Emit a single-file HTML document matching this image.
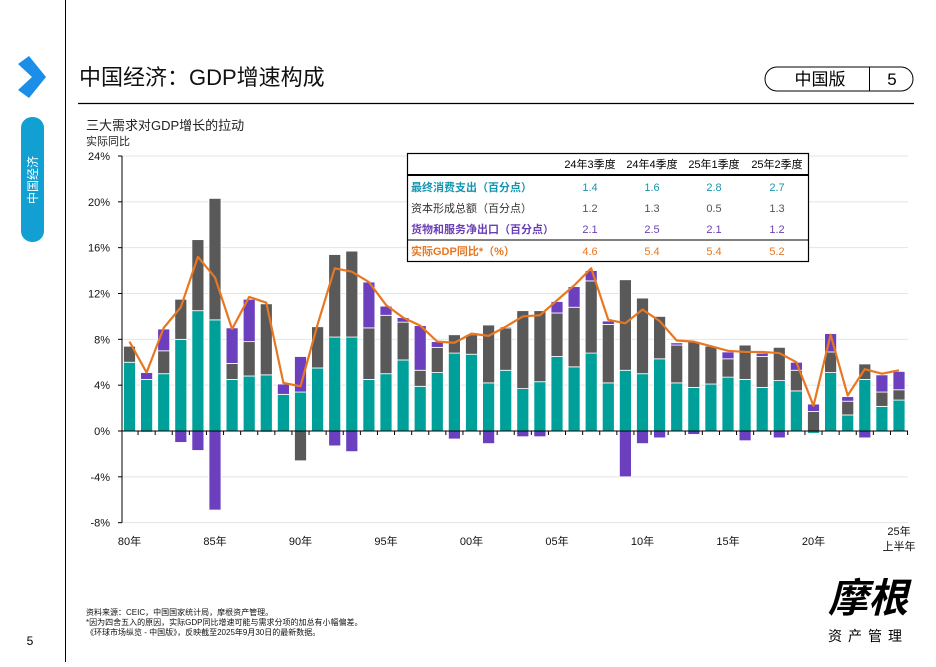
<!DOCTYPE html>
<html><head><meta charset="utf-8">
<style>
body{margin:0;width:936px;height:662px;background:#fff;overflow:hidden;font-family:"Liberation Sans","Noto Sans CJK SC",sans-serif;}
svg text{font-family:"Liberation Sans","Noto Sans CJK SC",sans-serif;}
</style></head>
<body>
<svg id="s" width="936" height="662" xmlns="http://www.w3.org/2000/svg">
<line x1="65.5" y1="0" x2="65.5" y2="662" stroke="#000" stroke-width="1"/>
<polygon points="18,64 29,56 46,77 29,98 18,90 32,77" fill="#1b8fe8"/>
<rect x="21" y="117" width="23" height="125" rx="11" fill="#12a0d2"/>
<text transform="translate(37,180) rotate(-90)" text-anchor="middle" font-size="12" fill="#fff">中国经济</text>
<text x="30" y="645" font-size="12" text-anchor="middle" fill="#000">5</text>
<text x="79" y="85" font-size="22" fill="#111">中国经济：GDP增速构成</text>
<line x1="78" y1="103.5" x2="914" y2="103.5" stroke="#000" stroke-width="1.3"/>
<rect x="765" y="67" width="148" height="24" rx="12" fill="none" stroke="#000"/>
<line x1="869.5" y1="67" x2="869.5" y2="91" stroke="#000"/>
<text x="820" y="85" font-size="17" text-anchor="middle">中国版</text>
<text x="892" y="85" font-size="17" text-anchor="middle">5</text>
<text x="86" y="130" font-size="13" fill="#222">三大需求对GDP增长的拉动</text>
<text x="86" y="145" font-size="11" fill="#222">实际同比</text>
<g id="grid"></g><g id="bars"></g><g id="line"></g><g id="axes"></g>
<g>
<rect x="407.5" y="153.5" width="401" height="108" fill="#fff" stroke="#000" stroke-width="1.2"/>
<line x1="407" y1="175" x2="808" y2="175" stroke="#000" stroke-width="2"/>
<line x1="407" y1="240" x2="808" y2="240" stroke="#000" stroke-width="1"/>
<g font-size="11" text-anchor="middle" fill="#000">
<text x="590" y="168">24年3季度</text><text x="652" y="168">24年4季度</text><text x="714" y="168">25年1季度</text><text x="777" y="168">25年2季度</text></g>
<g font-size="11">
<text x="411" y="191" fill="#1596b0" font-weight="bold">最终消费支出（百分点）</text>
<text x="411" y="212" fill="#333">资本形成总额（百分点）</text>
<text x="411" y="233" fill="#6a3fb5" font-weight="bold">货物和服务净出口（百分点）</text>
<text x="411" y="255" fill="#e87722" font-weight="bold">实际GDP同比*（%）</text></g>
<g font-size="11" text-anchor="middle">
<g fill="#1596b0"><text x="590" y="191">1.4</text><text x="652" y="191">1.6</text><text x="714" y="191">2.8</text><text x="777" y="191">2.7</text></g>
<g fill="#555"><text x="590" y="212">1.2</text><text x="652" y="212">1.3</text><text x="714" y="212">0.5</text><text x="777" y="212">1.3</text></g>
<g fill="#6a3fb5"><text x="590" y="233">2.1</text><text x="652" y="233">2.5</text><text x="714" y="233">2.1</text><text x="777" y="233">1.2</text></g>
<g fill="#e87722"><text x="590" y="255">4.6</text><text x="652" y="255">5.4</text><text x="714" y="255">5.4</text><text x="777" y="255">5.2</text></g>
</g></g>
<g font-size="8" fill="#111">
<text x="86" y="615">资料来源：CEIC，中国国家统计局，摩根资产管理。</text>
<text x="86" y="625">*因为四舍五入的原因，实际GDP同比增速可能与需求分项的加总有小幅偏差。</text>
<text x="86" y="635">《环球市场纵览 - 中国版》，反映截至2025年9月30日的最新数据。</text>
</g>
<text x="868" y="612" font-size="40" font-family="Noto Serif CJK SC,serif" text-anchor="middle" font-style="italic" font-weight="bold">摩根</text>
<text x="868" y="641" font-size="14" text-anchor="middle" letter-spacing="6">资产管理</text>
</svg>
<script>
const years=["80","81","82","83","84","85","86","87","88","89","90","91","92","93","94","95","96","97","98","99","00","01","02","03","04","05","06","07","08","09","10","11","12","13","14","15","16","17","18","19","20","21","22","23","24","25H1"];
const consumption=[6.0,4.5,5.0,8.0,10.5,9.7,4.5,4.8,4.9,3.2,3.4,5.5,8.2,8.2,4.5,5.0,6.2,3.9,5.1,6.8,6.7,4.2,5.3,3.7,4.3,6.5,5.6,6.8,4.2,5.3,5.0,6.3,4.2,3.8,4.1,4.7,4.5,3.8,4.4,3.5,-0.2,5.1,1.4,4.5,2.15,2.7];
const capital=[1.4,-0.1,2.0,3.5,6.2,10.6,1.4,3.0,6.2,0,-2.6,3.6,7.2,7.5,4.5,5.1,3.3,1.4,2.2,1.6,1.7,5.05,3.7,6.8,6.2,3.8,5.2,6.3,5.1,7.9,6.6,3.7,3.3,4.0,3.3,1.6,3.0,2.7,2.9,1.8,1.7,1.8,1.2,1.35,1.25,0.9];
const netExports=[0,0.6,1.9,-1.0,-1.7,-6.9,3.1,3.7,-0.1,0.9,3.1,0,-1.3,-1.8,4.0,0.8,0.4,3.9,0.5,-0.7,0,-1.1,0.1,-0.5,-0.5,1.0,1.8,0.9,0.3,-4.0,-1.1,-0.6,0.2,-0.3,0,0.6,-0.85,0.3,-0.6,0.7,0.65,1.6,0.4,-0.6,1.5,1.6];
const gdp=[7.8,5.1,9.0,10.8,15.2,13.4,8.9,11.7,11.2,4.2,3.9,9.3,14.2,13.9,13.0,11.0,9.9,9.2,7.8,7.7,8.5,8.3,9.1,10.0,10.1,11.4,12.7,14.2,9.7,9.4,10.6,9.6,7.9,7.8,7.4,7.0,6.9,6.9,6.8,6.0,2.2,8.4,3.1,5.4,5.0,5.3];
const yTicks=[24,20,16,12,8,4,0,-4,-8];
const xLabels=["80年","85年","90年","95年","00年","05年","10年","15年","20年"];
const NS="http://www.w3.org/2000/svg";
const y0=431,pxPer=275/24,x0=129.5,step=17.1,bw=12,gx1=122,gx2=908;
const Y=v=>y0-v*pxPer, X=i=>x0+i*step;
function mk(tag,attrs,parent){const e=document.createElementNS(NS,tag);for(const k in attrs)e.setAttribute(k,attrs[k]);parent.appendChild(e);return e;}
const grid=document.getElementById('grid'),bars=document.getElementById('bars'),ln=document.getElementById('line'),axes=document.getElementById('axes');
yTicks.forEach(t=>{
 if(t!==0){const g=mk('line',{x1:gx1,x2:gx2,y1:Y(t),y2:Y(t),stroke:'#e4e4e4','stroke-width':1},grid);
 
 }
 const tk=mk('line',{x1:gx1-4,x2:gx1,y1:Y(t),y2:Y(t),stroke:'#000'},axes);
 
 
 const tx=mk('text',{x:110,y:Y(t)+4,'font-size':11,'text-anchor':'end',fill:'#111'},axes);
 tx.textContent=t+'%';
 
 
});
const series=[[consumption,'#00a09a','consumption'],[capital,'#595959','capital'],[netExports,'#6c3fbf','net-exports']];
years.forEach((yr,i)=>{
 let pos=0,neg=0;
 series.forEach(([arr,col,nm])=>{
  const v=arr[i]; if(!v) return;
  let a,b; if(v>0){a=pos;b=pos+v;pos=b;}else{a=neg;b=neg+v;neg=b;}
  const top=Y(Math.max(a,b)),h=Math.abs(Y(a)-Y(b));
  const r=mk('rect',{x:X(i)-bw/2,y:top,width:bw,height:h,fill:col,stroke:'#fff','stroke-width':0.8},bars);
  
  
 });
 const tk=mk('line',{x1:X(i)+step/2,x2:X(i)+step/2,y1:y0,y2:y0+4,stroke:'#000'},axes);
 
 
});
const p=mk('polyline',{points:gdp.map((v,i)=>X(i)+','+Y(v)).join(' '),fill:'none',stroke:'#e87722','stroke-width':2.2,'stroke-linejoin':'round'},ln);


const ya=mk('line',{x1:gx1,x2:gx1,y1:Y(24),y2:Y(-8),stroke:'#000'},axes);


const xa=mk('line',{x1:gx1,x2:gx2,y1:y0,y2:y0,stroke:'#000'},axes);


xLabels.forEach((l,k)=>{
 const t=mk('text',{x:X(k*5),y:545,'font-size':11,'text-anchor':'middle',fill:'#111'},axes);
 t.textContent=l;
 
 
});
const t1=mk('text',{x:X(45),y:535,'font-size':11,'text-anchor':'middle',fill:'#111'},axes);
t1.textContent='25年';


const t2=mk('text',{x:X(45),y:550,'font-size':11,'text-anchor':'middle',fill:'#111'},axes);
t2.textContent='上半年';


</script>
</body></html>
